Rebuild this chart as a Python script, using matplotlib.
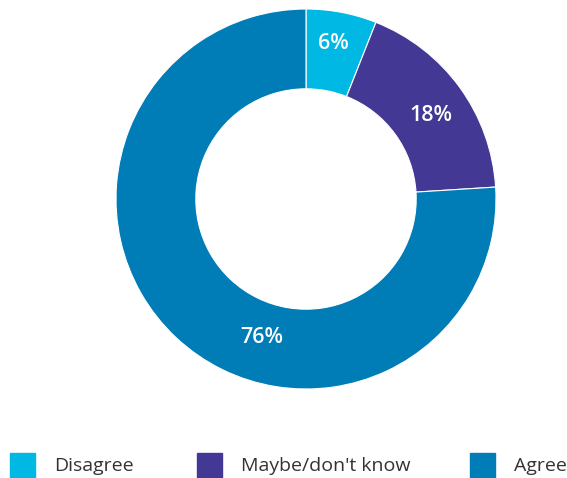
import matplotlib.pyplot as plt
from matplotlib.patches import Rectangle
import numpy as np

labels = ["Disagree", "Maybe/don't know", "Agree"]
values = [6, 18, 76]
colors = ["#00b8e4", "#433995", "#007cb6"]

plt.rcParams['font.family'] = ['Open Sans', 'DejaVu Sans']

fig = plt.figure(figsize=(5.67, 4.78), dpi=100)
W, H = 567, 478
cx, cy, R = 306, 199, 190
ax = fig.add_axes([(cx - R) / W, (H - cy - R) / H, 2 * R / W, 2 * R / H])
ax.pie(values, colors=colors, startangle=90, counterclock=False, radius=1,
       wedgeprops=dict(width=0.42, edgecolor='white', linewidth=0.8))
ax.set_xlim(-1, 1)
ax.set_ylim(-1, 1)
ax.set_aspect('equal')
ax.axis('off')

# label positions (angle deg, radius frac)
lab_pos = [(80, 0.83), (34, 0.79), (-107.7, 0.765)]
for v, (a, r) in zip(values, lab_pos):
    t = np.deg2rad(a)
    ax.text(r * np.cos(t), r * np.sin(t), f"{v}%", color='white',
            fontsize=15.5, fontweight='semibold', ha='center', va='center')

# legend
sq_x = [10, 197, 470]
for lab, c, x in zip(labels, colors, sq_x):
    fig.patches.append(Rectangle((x / W, 0), 25 / W, 25 / H, color=c,
                                 transform=fig.transFigure, figure=fig))
    fig.text((x + 44) / W, 12 / H, lab, fontsize=14, color='#333333',
             va='center', ha='left')

fig.savefig("out.png", dpi=100)
